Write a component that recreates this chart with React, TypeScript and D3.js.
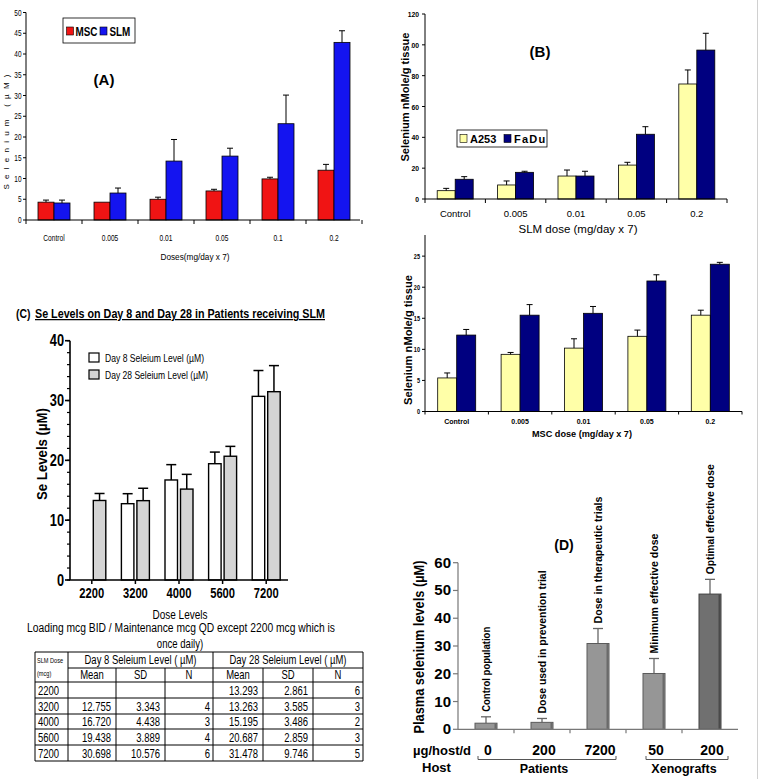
import React from 'react';
import * as d3 from 'd3';

const W = 759;
const H = 779;
const ARIAL = "'Liberation Sans',Arial,Helvetica,sans-serif";

// ---------- Panel A: serum selenium, MSC vs SLM ----------
const dosesA = ['Control', '0.005', '0.01', '0.05', '0.1', '0.2'];
const mscA = [4.3, 4.3, 5.0, 7.0, 9.9, 12.0];
const mscErrA = [0.5, 0, 0.5, 0.4, 0.4, 1.4];
const slmA = [4.1, 6.5, 14.2, 15.4, 23.2, 42.8];
const slmErrA = [0.7, 1.2, 5.2, 1.9, 6.9, 2.8];
const ticksA = [0, 5, 10, 15, 20, 25, 30, 35, 40, 45, 50];

// ---------- Panel B: tumor selenium ----------
const dosesB = ['Control', '0.005', '0.01', '0.05', '0.2'];
const a253Slm = [5.4, 9.1, 14.9, 22.0, 74.6];
const a253SlmErr = [1.5, 2.6, 3.9, 1.8, 9.1];
const faduSlm = [12.8, 17.3, 14.9, 42.0, 96.6];
const faduSlmErr = [1.7, 0.7, 3.1, 4.9, 10.9];
const ticksBTop = [0, 20, 40, 60, 80, 100, 120];
const a253Msc = [5.4, 9.2, 10.2, 12.1, 15.5];
const a253MscErr = [0.8, 0.3, 1.5, 1.0, 0.8];
const faduMsc = [12.3, 15.5, 15.8, 21.0, 23.7];
const faduMscErr = [0.9, 1.7, 1.1, 1.0, 0.3];
const ticksBBot = [0, 5, 10, 15, 20, 25];

// ---------- Panel C: patients day 8 / day 28 ----------
const dosesC = ['2200', '3200', '4000', '5600', '7200'];
const day8Mean: (number | null)[] = [null, 12.755, 16.72, 19.438, 30.698];
const day8SD: (number | null)[] = [null, 3.343, 4.438, 3.889, 10.576];
const day8N: (number | null)[] = [null, 4, 3, 4, 6];
const day28Mean = [13.293, 13.263, 15.195, 20.687, 31.478];
const day28SD = [2.861, 3.585, 3.486, 2.859, 9.746];
const day28N = [6, 3, 2, 3, 5];
const ticksC = [0, 10, 20, 30, 40];
const minorTicksC = d3.range(0, 41, 2);

// ---------- Panel D: plasma selenium by host ----------
const hostDoseD = ['0', '200', '7200', '50', '200'];
const plasmaD = [2.2, 2.5, 30.9, 20.1, 48.7];
const plasmaErrD = [2.3, 1.4, 5.4, 5.4, 5.3];
const barLabelsD = [
  'Control population',
  'Dose used in prevention trial',
  'Dose in therapeutic trials',
  'Minimum effective dose',
  'Optimal effective dose',
];
const hostGroupsD = [
  { name: 'Patients', from: 0, to: 2 },
  { name: 'Xenografts', from: 3, to: 4 },
];
const ticksD = [0, 10, 20, 30, 40, 50, 60];
const labelLenD = [85, 143, 127, 120, 110];

const RED = '#f01414';
const BLUE = '#1414f0';
const YELLOW = '#ffffa8';
const NAVY = '#000080';

// condensed text (Arial metrics squeezed horizontally)
function NT({ x, y, size, anchor = 'start', weight = 'normal', sx = 0.8, children, ...rest }: any) {
  return (
    <text
      transform={`translate(${x},${y}) scale(${sx},1)`}
      textAnchor={anchor}
      fontSize={size}
      fontWeight={weight}
      fontFamily={ARIAL}
      {...rest}
    >
      {children}
    </text>
  );
}

function ErrorBar({ cx, y0, y1, cap, color = '#000', sw = 1 }: any) {
  return (
    <g stroke={color} strokeWidth={sw}>
      <line x1={cx} x2={cx} y1={y0} y2={y1} />
      <line x1={cx - cap / 2} x2={cx + cap / 2} y1={y1} y2={y1} />
    </g>
  );
}

function PanelA() {
  const x = d3.scaleBand<string>().domain(dosesA).range([26, 362]);
  const y = d3.scaleLinear().domain([0, 50]).range([220, 12.5]);
  const bw = 16;
  const bounds = d3.range(0, dosesA.length + 1).map((i) => 26 + i * x.bandwidth());
  return (
    <g>
      {dosesA.map((d, i) => {
        const c = (x(d) as number) + x.bandwidth() / 2;
        return (
          <g key={d}>
            <rect x={c - bw} y={y(mscA[i])} width={bw} height={y(0) - y(mscA[i])} fill={RED} stroke="#000" strokeWidth={0.8} />
            <rect x={c} y={y(slmA[i])} width={bw} height={y(0) - y(slmA[i])} fill={BLUE} stroke="#000" strokeWidth={0.8} />
            {mscErrA[i] > 0 && <ErrorBar cx={c - bw / 2} y0={y(mscA[i])} y1={y(mscA[i] + mscErrA[i])} cap={6} />}
            {slmErrA[i] > 0 && <ErrorBar cx={c + bw / 2} y0={y(slmA[i])} y1={y(slmA[i] + slmErrA[i])} cap={6} />}
            <NT x={c} y={240.5} anchor="middle" size={8.5} sx={0.78}>{d}</NT>
          </g>
        );
      })}
      <line x1={26} x2={26} y1={y(50)} y2={y(0)} stroke="#000" />
      {ticksA.map((t) => (
        <g key={t}>
          <line x1={23} x2={26} y1={y(t)} y2={y(t)} stroke="#000" />
          <NT x={21.5} y={y(t) + 3} anchor="end" size={9} sx={0.72}>{t}</NT>
        </g>
      ))}
      <line x1={26} x2={360} y1={y(0)} y2={y(0)} stroke="#000" />
      {bounds.map((b, i) => (
        <line key={i} x1={b} x2={b} y1={y(0)} y2={y(0) + 4} stroke="#000" />
      ))}
      <text transform={`translate(8.5,132) rotate(-90)`} textAnchor="middle" fontSize={8} fontFamily={ARIAL} textLength={115} lengthAdjust="spacing">Selenium (µM)</text>
      <text x={195} y={260} textAnchor="middle" fontSize={9} fontFamily={ARIAL} textLength={69} lengthAdjust="spacingAndGlyphs">Doses(mg/day x 7)</text>
      <rect x={63} y={18} width={72} height={25} fill="#fff" stroke="#000" strokeWidth={0.8} />
      <rect x={66.5} y={27} width={7} height={8} fill={RED} stroke="#000" strokeWidth={0.6} />
      <NT x={75.5} y={35.5} size={13} weight="bold" sx={0.76}>MSC</NT>
      <rect x={100} y={27} width={7} height={8} fill={BLUE} stroke="#000" strokeWidth={0.6} />
      <NT x={109.5} y={35.5} size={13} weight="bold" sx={0.76}>SLM</NT>
      <text x={104} y={85} textAnchor="middle" fontSize={15} fontWeight="bold" fontFamily={ARIAL}>(A)</text>
    </g>
  );
}

function PanelB() {
  const xT = d3.scaleBand<string>().domain(dosesB).range([425, 727]);
  const yT = d3.scaleLinear().domain([0, 120]).range([199, 14]);
  const bwT = 18;
  const xB = d3.scaleBand<string>().domain(dosesB).range([425, 742]);
  const yB = d3.scaleLinear().domain([0, 28.4]).range([411.5, 235]);
  const bwB = 19;
  const bT = d3.range(0, dosesB.length + 1).map((i) => 425 + i * xT.bandwidth());
  const bB = d3.range(0, dosesB.length + 1).map((i) => 425 + i * xB.bandwidth());
  return (
    <g>
      {/* top: SLM */}
      {dosesB.map((d, i) => {
        const c = (xT(d) as number) + xT.bandwidth() / 2;
        return (
          <g key={d}>
            <rect x={c - bwT} y={yT(a253Slm[i])} width={bwT} height={yT(0) - yT(a253Slm[i])} fill={YELLOW} stroke="#000" strokeWidth={0.8} />
            <rect x={c} y={yT(faduSlm[i])} width={bwT} height={yT(0) - yT(faduSlm[i])} fill={NAVY} stroke="#000" strokeWidth={0.8} />
            <ErrorBar cx={c - bwT / 2} y0={yT(a253Slm[i])} y1={yT(a253Slm[i] + a253SlmErr[i])} cap={6} />
            <ErrorBar cx={c + bwT / 2} y0={yT(faduSlm[i])} y1={yT(faduSlm[i] + faduSlmErr[i])} cap={6} />
            <text x={c} y={217} textAnchor="middle" fontSize={9.5} fontFamily={ARIAL}>{d}</text>
          </g>
        );
      })}
      <line x1={425} x2={425} y1={yT(120)} y2={yT(0)} stroke="#000" />
      {ticksBTop.map((t) => (
        <g key={t}>
          <line x1={422} x2={425} y1={yT(t)} y2={yT(t)} stroke="#000" />
          <NT x={419} y={yT(t) + 3} anchor="end" size={8} weight="bold" sx={0.85}>{t}</NT>
        </g>
      ))}
      <line x1={425} x2={727} y1={yT(0)} y2={yT(0)} stroke="#000" />
      {bT.map((b, i) => (
        <line key={i} x1={b} x2={b} y1={yT(0)} y2={yT(0) + 4} stroke="#000" />
      ))}
      <rect x={398} y={28} width={13} height={140} fill="#fff" />
      <text transform={`translate(409,97) rotate(-90)`} textAnchor="middle" fontSize={10.5} fontWeight="bold" fontFamily={ARIAL} textLength={129} lengthAdjust="spacingAndGlyphs">Selenium nMole/g tissue</text>
      <text x={578} y={233} textAnchor="middle" fontSize={11} fontFamily={ARIAL} textLength={119} lengthAdjust="spacingAndGlyphs">SLM dose (mg/day x 7)</text>
      <rect x={457} y={130} width={90} height={17} fill="#fff" stroke="#000" strokeWidth={0.8} />
      <rect x={460} y={134.5} width={7} height={8} fill={YELLOW} stroke="#000" strokeWidth={0.6} />
      <text x={470} y={143} fontSize={11} fontWeight="bold" fontFamily={ARIAL}>A253</text>
      <rect x={504} y={134.5} width={7} height={8} fill={NAVY} stroke="#000" strokeWidth={0.6} />
      <text x={514} y={143} fontSize={11} fontWeight="bold" fontFamily={ARIAL} letterSpacing={1.2}>FaDu</text>
      <text x={540} y={57} textAnchor="middle" fontSize={15} fontWeight="bold" fontFamily={ARIAL}>(B)</text>

      {/* bottom: MSC */}
      {dosesB.map((d, i) => {
        const c = (xB(d) as number) + xB.bandwidth() / 2;
        return (
          <g key={d}>
            <rect x={c - bwB} y={yB(a253Msc[i])} width={bwB} height={yB(0) - yB(a253Msc[i])} fill={YELLOW} stroke="#000" strokeWidth={0.8} />
            <rect x={c} y={yB(faduMsc[i])} width={bwB} height={yB(0) - yB(faduMsc[i])} fill={NAVY} stroke="#000" strokeWidth={0.8} />
            <ErrorBar cx={c - bwB / 2} y0={yB(a253Msc[i])} y1={yB(a253Msc[i] + a253MscErr[i])} cap={6} />
            <ErrorBar cx={c + bwB / 2} y0={yB(faduMsc[i])} y1={yB(faduMsc[i] + faduMscErr[i])} cap={6} />
            <text x={c} y={424} textAnchor="middle" fontSize={7} fontWeight="bold" fontFamily={ARIAL}>{d}</text>
          </g>
        );
      })}
      <line x1={425} x2={425} y1={235} y2={yB(0)} stroke="#000" />
      {ticksBBot.map((t) => (
        <g key={t}>
          <line x1={422} x2={425} y1={yB(t)} y2={yB(t)} stroke="#000" />
          <NT x={420} y={yB(t) + 2.5} anchor="end" size={6.5} weight="bold" sx={0.85}>{t}</NT>
        </g>
      ))}
      <line x1={425} x2={742} y1={yB(0)} y2={yB(0)} stroke="#000" />
      {bB.map((b, i) => (
        <line key={i} x1={b} x2={b} y1={yB(0)} y2={yB(0) + 3} stroke="#000" />
      ))}
      <text transform={`translate(412,340) rotate(-90)`} textAnchor="middle" fontSize={11} fontWeight="bold" fontFamily={ARIAL} textLength={130} lengthAdjust="spacingAndGlyphs">Selenium nMole/g tissue</text>
      <text x={582} y={437} textAnchor="middle" fontSize={9} fontWeight="bold" fontFamily={ARIAL} textLength={100} lengthAdjust="spacingAndGlyphs">MSC dose (mg/day x 7)</text>
    </g>
  );
}

function PanelC() {
  const x = d3.scaleBand<string>().domain(dosesC).range([70, 288]);
  const y = d3.scaleLinear().domain([0, 40]).range([580, 340.7]);
  const bw = 12.5;
  const gap = 1.5;
  return (
    <g>
      <NT x={16} y={318} size={13} weight="bold" sx={0.8}>(C)</NT>
      <text x={35} y={318} fontSize={12.5} fontWeight="bold" fontFamily={ARIAL} textDecoration="underline" textLength={290} lengthAdjust="spacingAndGlyphs">Se Levels on Day 8 and Day 28 in Patients receiving SLM</text>
      {dosesC.map((d, i) => {
        const c = (x(d) as number) + x.bandwidth() / 2;
        const m8 = day8Mean[i];
        const e8 = m8 != null ? (day8SD[i] as number) / Math.sqrt(day8N[i] as number) : 0;
        const m28 = day28Mean[i];
        const e28 = day28SD[i] / Math.sqrt(day28N[i]);
        return (
          <g key={d}>
            {m8 != null && (
              <>
                <ErrorBar cx={c - gap - bw / 2} y0={y(m8)} y1={y(m8 + e8)} cap={10} sw={1.5} />
                <rect x={c - gap - bw} y={y(m8)} width={bw} height={y(0) - y(m8)} fill="#fff" stroke="#000" strokeWidth={1.4} />
              </>
            )}
            <ErrorBar cx={c + gap + bw / 2} y0={y(m28)} y1={y(m28 + e28)} cap={10} sw={1.5} />
            <rect x={c + gap} y={y(m28)} width={bw} height={y(0) - y(m28)} fill="#d4d4d4" stroke="#000" strokeWidth={1.4} />
            <line x1={c} x2={c} y1={y(0)} y2={y(0) + 4} stroke="#000" strokeWidth={1.5} />
            <NT x={c} y={598} anchor="middle" size={14} weight="bold" sx={0.8}>{d}</NT>
          </g>
        );
      })}
      <line x1={70} x2={70} y1={y(40)} y2={y(0)} stroke="#000" strokeWidth={1.6} />
      <line x1={69} x2={288} y1={y(0)} y2={y(0)} stroke="#000" strokeWidth={1.6} />
      {minorTicksC.map((t) => (
        <line key={'m' + t} x1={67} x2={70} y1={y(t)} y2={y(t)} stroke="#000" strokeWidth={1.2} />
      ))}
      {ticksC.map((t) => (
        <g key={t}>
          <line x1={65} x2={70} y1={y(t)} y2={y(t)} stroke="#000" strokeWidth={1.6} />
          <NT x={64} y={y(t) + 5.5} anchor="end" size={16} weight="bold" sx={0.8}>{t}</NT>
        </g>
      ))}
      <text transform={`translate(47,454) rotate(-90)`} textAnchor="middle" fontSize={15} fontWeight="bold" fontFamily={ARIAL} textLength={92} lengthAdjust="spacingAndGlyphs">Se Levels (µM)</text>
      <rect x={89} y={353} width={10} height={9} fill="#fff" stroke="#000" strokeWidth={1.2} />
      <text x={105} y={362} fontSize={11} fontFamily={ARIAL} textLength={99} lengthAdjust="spacingAndGlyphs">Day 8 Seleium Level (µM)</text>
      <rect x={89} y={370} width={10} height={9} fill="#d4d4d4" stroke="#000" strokeWidth={1.2} />
      <text x={105} y={379} fontSize={11} fontFamily={ARIAL} textLength={103} lengthAdjust="spacingAndGlyphs">Day 28 Seleium Level (µM)</text>
    </g>
  );
}

function Table() {
  const cols = [35, 68, 116, 165, 213, 263, 313, 363];
  const rows = [652, 668, 682, 698, 714, 729, 745, 761];
  const fs = 12.5;
  const sx = 0.76;
  const fmt = (v: number | null, dec: boolean) => (v == null ? '' : dec ? v.toFixed(3) : String(v));
  return (
    <g>
      <NT x={180} y={618.5} anchor="middle" size={12.5} sx={0.8}>Dose Levels</NT>
      <text x={27} y={632} fontSize={12} fontFamily={ARIAL} textLength={308} lengthAdjust="spacingAndGlyphs">Loading mcg BID / Maintenance mcg QD except 2200 mcg which is</text>
      <NT x={180} y={647.5} anchor="middle" size={12} sx={0.8}>once daily)</NT>
      <g stroke="#000" strokeWidth={1}>
        <line x1={cols[0]} x2={cols[7]} y1={rows[0]} y2={rows[0]} />
        <line x1={cols[1]} x2={cols[7]} y1={rows[1]} y2={rows[1]} />
        {rows.slice(2).map((r) => (
          <line key={r} x1={cols[0]} x2={cols[7]} y1={r} y2={r} />
        ))}
        {cols.map((c, i) => {
          const full = i === 0 || i === 1 || i === 4 || i === 7;
          return <line key={c} x1={c} x2={c} y1={full ? rows[0] : rows[1]} y2={rows[7]} />;
        })}
      </g>
      <NT x={37} y={662.5} size={7} sx={0.8}>SLM Dose</NT>
      <NT x={37} y={676} size={7} sx={0.8}>(mcg)</NT>
      <text x={(cols[1] + cols[4]) / 2} y={664} textAnchor="middle" fontSize={fs} fontFamily={ARIAL} textLength={112} lengthAdjust="spacingAndGlyphs">Day 8 Seleium Level ( µM)</text>
      <text x={(cols[4] + cols[7]) / 2} y={664} textAnchor="middle" fontSize={fs} fontFamily={ARIAL} textLength={117} lengthAdjust="spacingAndGlyphs">Day 28 Seleium Level ( µM)</text>
      {['Mean', 'SD', 'N', 'Mean', 'SD', 'N'].map((h, i) => (
        <NT key={i} x={(cols[i + 1] + cols[i + 2]) / 2} y={679} anchor="middle" size={fs} sx={sx}>{h}</NT>
      ))}
      {dosesC.map((d, r) => {
        const base = (rows[r + 2] + rows[r + 3]) / 2 + 4.5;
        const vals = [
          fmt(day8Mean[r], true), fmt(day8SD[r], true), fmt(day8N[r], false),
          fmt(day28Mean[r], true), fmt(day28SD[r], true), fmt(day28N[r], false),
        ];
        return (
          <g key={d}>
            <NT x={38} y={base} size={fs} sx={sx}>{d}</NT>
            {vals.map((v, k) => (
              <NT key={k} x={k % 3 === 2 ? cols[k + 2] - 3 : cols[k + 2] - 5} y={base} anchor="end" size={fs} sx={sx}>{v}</NT>
            ))}
          </g>
        );
      })}
    </g>
  );
}

function PanelD() {
  const x = d3.scaleBand<string>().domain(d3.range(hostDoseD.length).map(String)).range([458, 738]);
  const y = d3.scaleLinear().domain([0, 60]).range([729.3, 562.7]);
  const bw = 22;
  const bounds = d3.range(1, hostDoseD.length).map((i) => 458 + i * x.bandwidth());
  const cx = (i: number) => (x(String(i)) as number) + x.bandwidth() / 2;
  return (
    <g fontFamily={ARIAL} fontWeight="bold">
      {hostDoseD.map((d, i) => {
        const c = cx(i);
        const last = i === hostDoseD.length - 1;
        const top = y(plasmaD[i] + plasmaErrD[i]);
        return (
          <g key={i}>
            <ErrorBar cx={c} y0={y(plasmaD[i])} y1={top} cap={10} color="#666" sw={1.3} />
            <rect x={c - bw / 2} y={y(plasmaD[i])} width={bw} height={y(0) - y(plasmaD[i])} fill={last ? '#707070' : '#969696'} stroke={last ? '#404040' : '#5a5a5a'} strokeWidth={1} />
            <rect x={c + bw / 2 - 2.5} y={y(plasmaD[i]) + 0.5} width={2} height={y(0) - y(plasmaD[i]) - 1} fill={last ? '#4a4a4a' : '#6a6a6a'} />
            <text transform={`translate(${c + 4},${top - 5}) rotate(-90)`} fontSize={11.5} textLength={labelLenD[i]} lengthAdjust="spacingAndGlyphs">{barLabelsD[i]}</text>
            <text x={c + 2} y={755} textAnchor="middle" fontSize={14}>{d}</text>
          </g>
        );
      })}
      <line x1={458} x2={458} y1={y(60)} y2={y(0)} stroke="#777" strokeWidth={1.2} />
      {ticksD.map((t) => (
        <g key={t}>
          <line x1={453} x2={458} y1={y(t)} y2={y(t)} stroke="#777" strokeWidth={1.2} />
          <text x={451} y={y(t) + 5} textAnchor="end" fontSize={15}>{t}</text>
        </g>
      ))}
      <line x1={458} x2={738} y1={y(0)} y2={y(0)} stroke="#777" strokeWidth={1.2} />
      {bounds.map((b, i) => (
        <line key={i} x1={b} x2={b} y1={y(0)} y2={y(0) + 4} stroke="#777" strokeWidth={1.2} />
      ))}
      <text transform={`translate(424,647) rotate(-90)`} textAnchor="middle" fontSize={14} textLength={173} lengthAdjust="spacingAndGlyphs">Plasma selenium levels (µM)</text>
      <text x={564} y={550} textAnchor="middle" fontSize={14}>(D)</text>
      <text x={413} y={755} fontSize={13}>µg/host/d</text>
      <text x={422} y={772} fontSize={13}>Host</text>
      {hostGroupsD.map((g) => {
        const x0 = cx(g.from) - 8;
        const x1 = cx(g.to) + 18;
        const xm = (cx(g.from) + cx(g.to)) / 2 + 2;
        return (
          <g key={g.name}>
            <path d={`M${x0},756 V759.5 H${x1} V756`} fill="none" stroke="#555" strokeWidth={1} />
            <text x={xm} y={773} textAnchor="middle" fontSize={12.5}>{g.name}</text>
          </g>
        );
      })}
    </g>
  );
}

export default function App() {
  return (
    <svg width={W} height={H} viewBox={`0 0 ${W} ${H}`} style={{ position: 'absolute', left: 0, top: 0, background: '#fff' }}>
      <rect width={W} height={H} fill="#fff" />
      <PanelA />
      <PanelB />
      <PanelC />
      <Table />
      <PanelD />
      <line x1={757.5} x2={757.5} y1={0} y2={H} stroke="#d0d0d0" strokeWidth={1} />
    </svg>
  );
}
